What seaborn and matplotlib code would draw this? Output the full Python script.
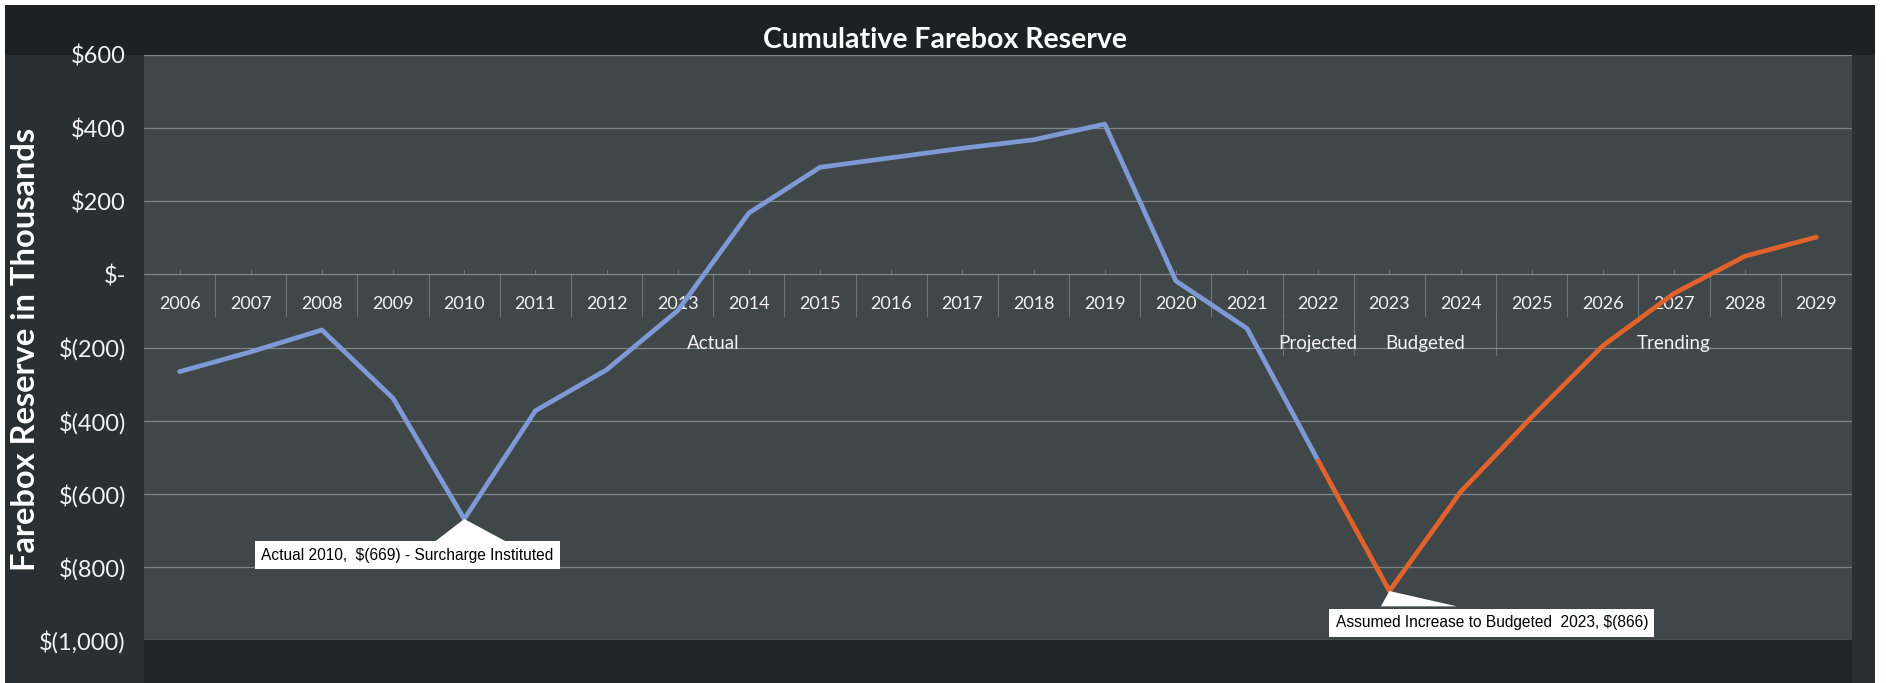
import matplotlib
matplotlib.use("Agg")
import matplotlib.pyplot as plt
import seaborn as sns
import pandas as pd
from matplotlib.patches import Rectangle, Polygon

# ---- data (thousands of dollars) ----
years_actual = list(range(2006, 2023))
reserve_actual = [-266, -212, -152, -339, -669, -373, -261, -99, 168, 293,
                  319, 345, 368, 411, -18, -148, -510]
years_trend = list(range(2022, 2030))
reserve_trend = [-510, -866, -595, -390, -195, -52, 50, 102]

y_ticks = [600, 400, 200, 0, -200, -400, -600, -800, -1000]
y_tick_labels = ["$600", "$400", "$200", "$-", "$(200)", "$(400)",
                 "$(600)", "$(800)", "$(1,000)"]

group_names = ["Actual", "Projected", "Budgeted", "Trending"]
group_first = [2006, 2022, 2023, 2025]
group_last = [2021, 2022, 2024, 2029]

note_2010 = "Actual 2010,  $(669) - Surcharge Instituted"
note_2023 = "Assumed Increase to Budgeted  2023, $(866)"

# ---- style ----
sns.set_theme(style="dark")
plt.rcParams["font.family"] = ["Lato", "DejaVu Sans"]

blue = "#7e99d5"
orange = "#e2622b"
text_col = "#f2f2f2"
grid_col = "#8d9595"

df = pd.concat([
    pd.DataFrame({"Year": years_actual, "Reserve": reserve_actual, "Series": "Actual"}),
    pd.DataFrame({"Year": years_trend, "Reserve": reserve_trend, "Series": "Trend"}),
])

W, H = 1886, 683
fig = plt.figure(figsize=(W / 100, H / 100), dpi=100, facecolor="white")

# dark outer panel and title band
fig.patches.append(Rectangle((5 / W, 0), 1870 / W, 678 / H, transform=fig.transFigure,
                             facecolor="#2a2f32", edgecolor="none", zorder=-2))
fig.patches.append(Rectangle((5 / W, 1 - 55 / H), 1870 / W, 50 / H, transform=fig.transFigure,
                             facecolor="#1d2124", edgecolor="none", zorder=-1))
fig.patches.append(Rectangle((144 / W, 0), 1708 / W, 43 / H, transform=fig.transFigure,
                             facecolor="#212528", edgecolor="none", zorder=-1))

ax = fig.add_axes([144 / W, 43 / H, 1708 / W, 585 / H])
ax.set_facecolor("#3f4748")

sns.lineplot(data=df, x="Year", y="Reserve", hue="Series", palette=[blue, orange],
             linewidth=3.4, legend=False, ax=ax, zorder=3)

ax.set_xlim(2005.5, 2029.5)
ax.set_ylim(-1000, 600)
ax.set_yticks(y_ticks)
ax.set_yticklabels(y_tick_labels)
ax.tick_params(axis="y", labelsize=17, colors=text_col, pad=13, length=0)
ax.set_xticks([])
ax.set_xlabel("")
ax.set_ylabel("")
for s in ax.spines.values():
    s.set_visible(False)
ax.grid(False)
for t in y_ticks:
    ax.axhline(t, color=grid_col, linewidth=0.9, alpha=0.8, zorder=1)

# category axis labels sitting on the zero line
all_years = list(range(2006, 2030))
for yr in all_years:
    ax.annotate(str(yr), xy=(yr, 0), xytext=(0, -21.5), textcoords="offset points",
                ha="center", va="center", fontsize=13, color=text_col, zorder=2)
row1 = -115
row2 = -220
for yr in all_years[:-1]:
    ax.plot([yr + 0.5, yr + 0.5], [0, row1], color=grid_col, linewidth=0.8, alpha=0.6, zorder=1)
    ax.plot([yr, yr], [0, 12], color=grid_col, linewidth=0.8, alpha=0.6, zorder=1)
for name, a, b in zip(group_names, group_first, group_last):
    ax.annotate(name, xy=((a + b) / 2, 0), xytext=(0, -49.5), textcoords="offset points",
                ha="center", va="center", fontsize=13.5, color=text_col, zorder=2)
for b in group_last[:-1]:
    ax.plot([b + 0.5, b + 0.5], [row1, row2], color=grid_col, linewidth=0.8, alpha=0.6, zorder=1)

# callouts
ax.add_patch(Polygon([(2010, -669), (2009.56, -735), (2010.63, -735)], closed=True,
                     facecolor="white", edgecolor="none", zorder=4))
ax.text(2009.2, -768, note_2010, ha="center", va="center", fontsize=11.2, color="black",
        family=["Liberation Sans", "DejaVu Sans"], zorder=5,
        bbox=dict(boxstyle="square,pad=0.4", facecolor="white", edgecolor="none"))
ax.add_patch(Polygon([(2023, -866), (2022.88, -908), (2023.95, -908)], closed=True,
                     facecolor="white", edgecolor="none", zorder=4))
ax.text(2024.44, -953, note_2023, ha="center", va="center", fontsize=11.2, color="black",
        family=["Liberation Sans", "DejaVu Sans"], zorder=5,
        bbox=dict(boxstyle="square,pad=0.4", facecolor="white", edgecolor="none"))

fig.text(945 / W, 1 - 40 / H, "Cumulative Farebox Reserve", ha="center", va="center",
         fontsize=20.5, fontweight="bold", color="white")
fig.text(26 / W, 1 - 349 / H, "Farebox Reserve in Thousands", ha="center", va="center",
         rotation=90, fontsize=23.5, fontweight="bold", color="white")

fig.savefig("out.png", dpi=100, facecolor=fig.get_facecolor())
